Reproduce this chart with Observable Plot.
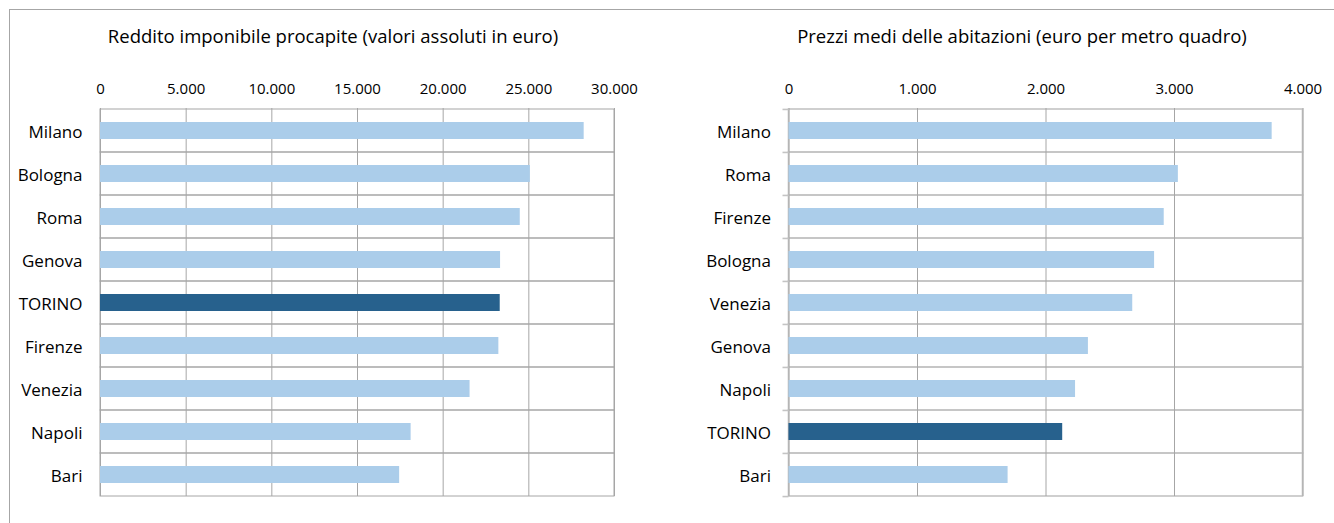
<!DOCTYPE html>
<html><head><meta charset="utf-8">
<script src="https://cdn.jsdelivr.net/npm/d3@7"></script>
<script src="https://cdn.jsdelivr.net/npm/@observablehq/plot@0.6"></script>
<style>
body{margin:0;background:#fff;width:1334px;height:523px;overflow:hidden;position:relative;font-family:"Open Sans",sans-serif;}
#frame{position:absolute;left:9px;top:9px;width:1400px;height:600px;border-left:1px solid #a6a6a6;border-top:1px solid #a6a6a6;}
.title{position:absolute;top:25px;font-size:18.5px;line-height:22px;color:#000;white-space:nowrap;transform:translateX(-50%);}
#left{position:absolute;left:0;top:60px}
#right{position:absolute;left:700px;top:60px}
</style></head><body>
<div id="frame"></div>
<div class="title" style="left:333px">Reddito imponibile procapite (valori assoluti in euro)</div>
<div class="title" style="left:1022px">Prezzi medi delle abitazioni (euro per metro quadro)</div>
<div id="left"></div><div id="right"></div>
<script>
const redditoCities = ["Milano","Bologna","Roma","Genova","TORINO","Firenze","Venezia","Napoli","Bari"];
const redditoValues = [28230,25090,24500,23350,23330,23250,21570,18130,17460];
const redditoTicks = [0,5000,10000,15000,20000,25000,30000];

const prezziCities = ["Milano","Roma","Firenze","Bologna","Venezia","Genova","Napoli","TORINO","Bari"];
const prezziValues = [3760,3030,2920,2845,2675,2330,2230,2130,1705];
const prezziTicks = [0,1000,2000,3000,4000];

const highlight = "TORINO";
const lightBlue = "#abcdea";
const darkBlue = "#27618d";
const gridColor = "#a6a6a6";

const itFormat = d3.formatLocale({decimal:",", thousands:".", grouping:[3], currency:["€",""]}).format(",");

function chart(cities, values, ticks, width, marginLeft, outerTicks){
  const data = cities.map((c,i)=>({city:c, value:values[i]}));
  const xmax = ticks[ticks.length-1];
  const height = 456, marginTop = 48, marginBottom = 20;
  const step = (height - marginTop - marginBottom) / cities.length;
  const hColor = outerTicks ? "#c4c4c4" : gridColor;
  const hWidth = outerTicks ? 1.6 : 1;
  const marks = [
    Plot.barX(cities, {x1:0, x2:xmax, y:d=>d, fill:"none", stroke:hColor, strokeWidth:hWidth}),
    Plot.ruleX(ticks, {stroke:gridColor}),
    Plot.barX(data, {x:"value", y:"city", fill:d=>d.city===highlight?"hl":"base", insetTop:13, insetBottom:13}),
    Plot.axisX({anchor:"top", ticks, tickSize:0, tickPadding:14.5, tickFormat:itFormat, fontSize:15}),
    Plot.axisY({anchor:"left", tickSize:0, tickPadding:18, fontSize:17, dy:2})
  ];
  if (outerTicks) {
    marks.push(Plot.axisY({anchor:"left", tickSize:6, tickFormat:()=>"", dy:-step/2, stroke:hColor, strokeWidth:hWidth}));
    marks.push(Plot.axisY([cities[cities.length-1]], {anchor:"left", tickSize:6, tickFormat:()=>"", dy:step/2, stroke:hColor, strokeWidth:hWidth}));
  }
  return Plot.plot({
    width, height, marginTop, marginBottom, marginLeft, marginRight: width - marginLeft - 514,
    style:{fontFamily:"'Open Sans', sans-serif", color:"#000", background:"transparent"},
    x:{domain:[0,xmax], label:null},
    y:{domain:cities, padding:0, label:null},
    color:{domain:["base","hl"], range:[lightBlue, darkBlue]},
    marks
  });
}

document.getElementById("left").append(chart(redditoCities, redditoValues, redditoTicks, 650, 100, false));
document.getElementById("right").append(chart(prezziCities, prezziValues, prezziTicks, 630, 88.5, true));
</script>
</body></html>
